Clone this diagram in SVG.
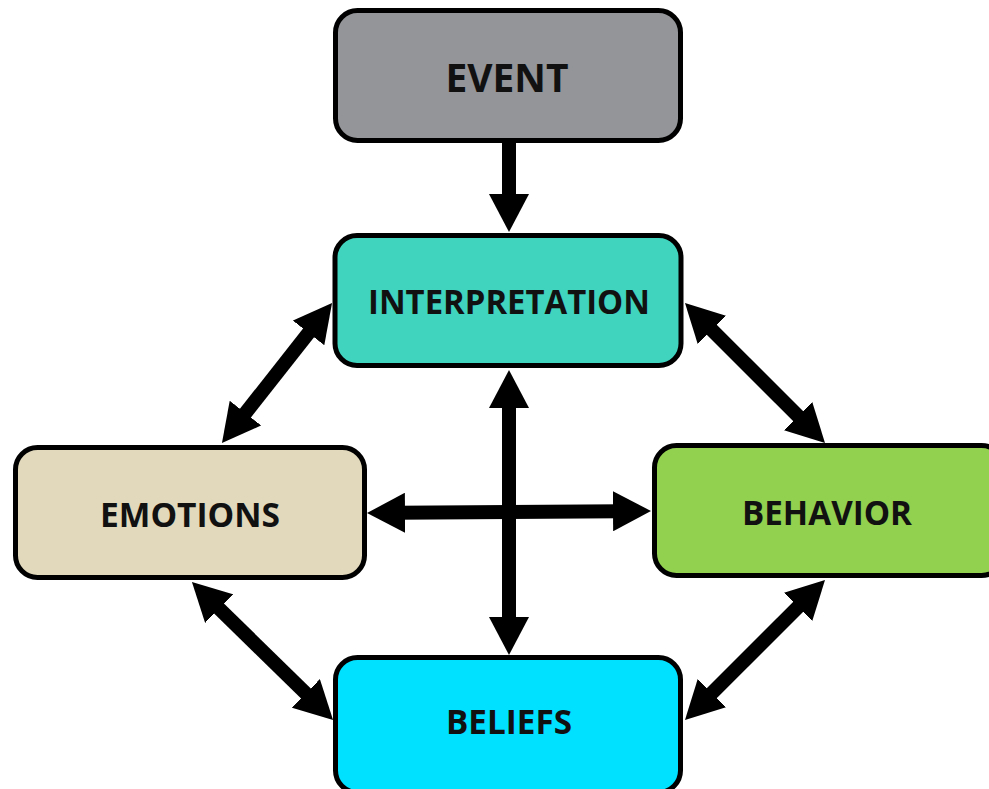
<svg xmlns="http://www.w3.org/2000/svg" width="989" height="789" viewBox="0 0 989 789">
<style>
.box{stroke:#000;stroke-width:5}
.lbl{font-family:"Open Sans","Liberation Sans",sans-serif;font-weight:bold;fill:#111;text-anchor:middle}
.conn{stroke:#000;stroke-width:14;fill:none}
</style>
<defs>
<marker id="ah" markerUnits="userSpaceOnUse" markerWidth="38" markerHeight="40" viewBox="0 0 38 40" refX="8" refY="20" orient="auto-start-reverse">
<path d="M0,0 L38,20 L0,40 Z" fill="#000"/>
</marker>
</defs>
<rect width="989" height="789" fill="#fff"/>
<g id="connectors">
<line class="conn" x1="509" y1="143" x2="509" y2="202" marker-end="url(#ah)"/>
<line class="conn" x1="509" y1="400" x2="509" y2="625" marker-start="url(#ah)" marker-end="url(#ah)"/>
<line class="conn" x1="397" y1="512.8" x2="621" y2="511.2" marker-start="url(#ah)" marker-end="url(#ah)"/>
<line class="conn" x1="313.5" y1="326.6" x2="240.5" y2="419.4" marker-start="url(#ah)" marker-end="url(#ah)"/>
<line class="conn" x1="706.2" y1="324.2" x2="803.8" y2="421.8" marker-start="url(#ah)" marker-end="url(#ah)"/>
<line class="conn" x1="213.4" y1="603" x2="311.6" y2="699" marker-start="url(#ah)" marker-end="url(#ah)"/>
<line class="conn" x1="803.8" y1="601.2" x2="706.2" y2="698.8" marker-start="url(#ah)" marker-end="url(#ah)"/>
</g>
<g id="event">
<rect class="box" x="335.5" y="10.5" width="345" height="130" rx="22" fill="#939598"/>
<text class="lbl" x="507" y="92" font-size="40" textLength="123" lengthAdjust="spacingAndGlyphs">EVENT</text>
</g>
<g id="interpretation">
<rect class="box" x="335" y="235.5" width="346" height="130" rx="22" fill="#40D3BE"/>
<text class="lbl" x="509" y="314" font-size="34" textLength="282" lengthAdjust="spacingAndGlyphs">INTERPRETATION</text>
</g>
<g id="emotions">
<rect class="box" x="15.5" y="447.5" width="349" height="130" rx="22" fill="#E2D9BC"/>
<text class="lbl" x="190" y="527" font-size="34" textLength="180" lengthAdjust="spacingAndGlyphs">EMOTIONS</text>
</g>
<g id="behavior">
<rect class="box" x="654.5" y="445.5" width="349" height="130" rx="22" fill="#92D050"/>
<text class="lbl" x="827" y="525" font-size="34" textLength="170" lengthAdjust="spacingAndGlyphs">BEHAVIOR</text>
</g>
<g id="beliefs">
<rect class="box" x="335.5" y="657.5" width="345" height="135" rx="22" fill="#00E0FF"/>
<text class="lbl" x="509" y="734" font-size="34" textLength="126" lengthAdjust="spacingAndGlyphs">BELIEFS</text>
</g>
</svg>
